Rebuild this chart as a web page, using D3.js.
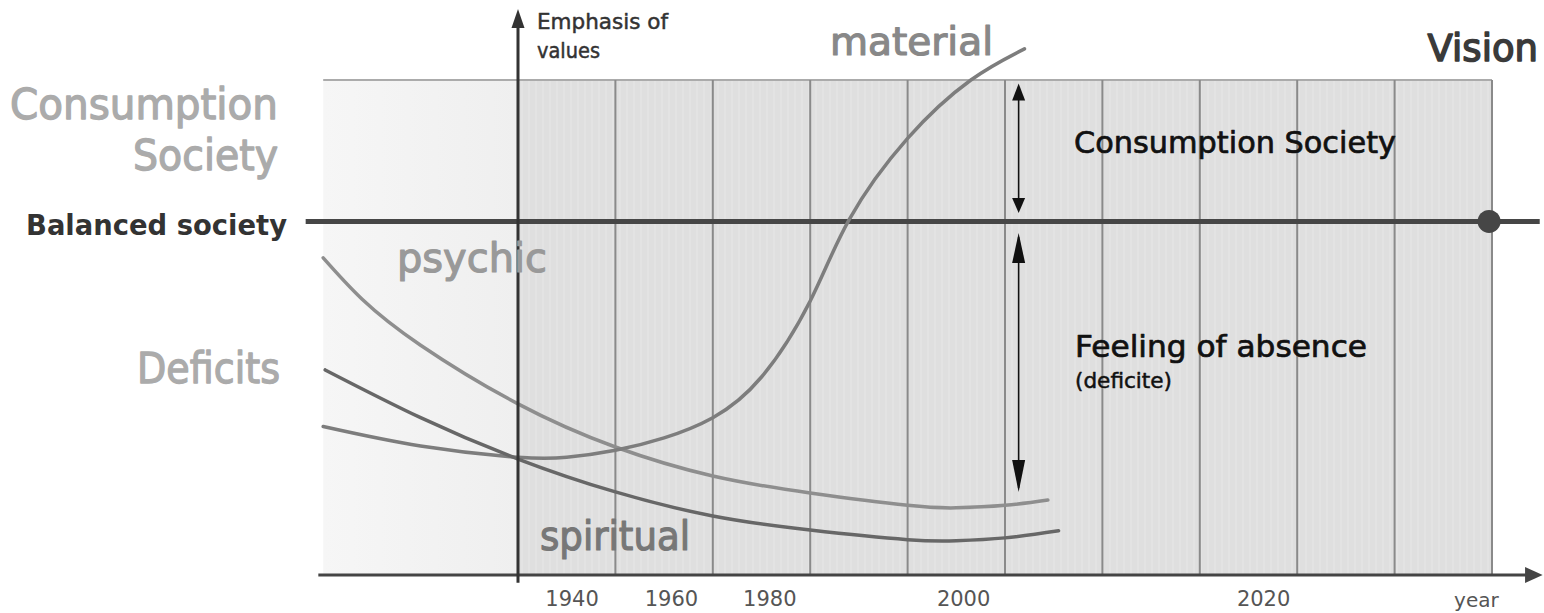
<!DOCTYPE html>
<html>
<head>
<meta charset="utf-8">
<script src="https://cdn.jsdelivr.net/npm/d3@7"></script>
<style>
  body { margin: 0; background: #fff; }
  svg { display: block; }
  text { font-family: "DejaVu Sans", sans-serif; }
</style>
</head>
<body>
<svg id="chart" width="1544" height="613"></svg>
<script>
// x is measured in period columns (0 = value axis), y in emphasis units (10 = balance)
var gridCols = d3.range(1, 11);
var tickCols = [0.55, 1.57, 2.58, 4.57, 7.65];
var tickLabels = ["1940", "1960", "1980", "2000", "2020"];
var balanced = 10;

var material = [[-2.0, 4.2], [-1.0, 3.65], [0, 3.33], [0.5, 3.33], [1.0, 3.53], [1.5, 3.88],
                [2.0, 4.45], [2.5, 5.6], [3.0, 7.75], [3.4, 10.05], [4.0, 12.35], [4.65, 14.0], [5.2, 14.88]];
var psychic = [[-2.0, 8.97], [-1.6, 7.8], [-1.0, 6.5], [0, 4.84], [1.0, 3.62], [2.0, 2.8],
               [3.0, 2.32], [4.0, 1.97], [4.5, 1.9], [5.0, 1.97], [5.44, 2.12]];
var spiritual = [[-1.98, 5.8], [-1.0, 4.45], [0, 3.28], [1.0, 2.35], [2.0, 1.67], [3.0, 1.27],
                 [4.0, 1.0], [4.5, 0.97], [5.0, 1.05], [5.55, 1.25]];

var upperArrow = [13.9, 10.24];   // consumption society span
var lowerArrow = [9.67, 2.35];    // feeling of absence span
var arrowCol = 5.14;

var svg = d3.select("#chart");
var x = d3.scaleLinear().domain([0, 10]).range([518, 1492]);
var y = d3.scaleLinear().domain([0, 14]).range([575, 80]);

// --- background panels
var defs = svg.append("defs");
var stripes = defs.append("pattern").attr("id", "stripes")
    .attr("width", 7).attr("height", 10).attr("patternUnits", "userSpaceOnUse");
stripes.append("rect").attr("width", 7).attr("height", 10).attr("fill", "#dfdfdf");
stripes.append("rect").attr("x", 3).attr("width", 2).attr("height", 10).attr("fill", "#e3e3e3");

var lightGrad = defs.append("linearGradient").attr("id", "lightGrad");
lightGrad.append("stop").attr("offset", "0%").attr("stop-color", "#f6f6f6");
lightGrad.append("stop").attr("offset", "100%").attr("stop-color", "#efefef");

svg.append("rect")
    .attr("x", x(-2)).attr("y", y(14))
    .attr("width", x(0) - x(-2)).attr("height", y(0) - y(14))
    .attr("fill", "url(#lightGrad)");
svg.append("rect")
    .attr("x", x(0)).attr("y", y(14))
    .attr("width", x(10) - x(0)).attr("height", y(0) - y(14))
    .attr("fill", "url(#stripes)");

svg.append("line")
    .attr("x1", x(-2)).attr("x2", x(10))
    .attr("y1", y(14)).attr("y2", y(14))
    .attr("stroke", "#ababab").attr("stroke-width", 2);

svg.selectAll(".grid").data(gridCols).enter().append("line")
    .attr("class", "grid")
    .attr("x1", function(d) { return x(d); }).attr("x2", function(d) { return x(d); })
    .attr("y1", y(14)).attr("y2", y(0))
    .attr("stroke", "#8a8a8a").attr("stroke-width", 2);

// --- balanced society line
svg.append("line")
    .attr("x1", x(-2.18)).attr("x2", x(10.49))
    .attr("y1", y(balanced)).attr("y2", y(balanced))
    .attr("stroke", "#464646").attr("stroke-width", 5);
svg.append("circle")
    .attr("cx", x(9.97)).attr("cy", y(balanced)).attr("r", 11.5)
    .attr("fill", "#464646");

// --- curves
var line = d3.line()
    .x(function(d) { return x(d[0]); })
    .y(function(d) { return y(d[1]); })
    .curve(d3.curveNatural);

var curves = [
  { data: psychic, color: "#8e8e8e" },
  { data: material, color: "#7d7d7d" },
  { data: spiritual, color: "#676767" }
];
svg.selectAll(".curve").data(curves).enter().append("path")
    .attr("class", "curve")
    .attr("d", function(d) { return line(d.data); })
    .attr("fill", "none")
    .attr("stroke", function(d) { return d.color; })
    .attr("stroke-width", 3.5)
    .attr("stroke-linecap", "round");

// --- axes
var xAxis = d3.axisBottom(x)
    .tickValues(tickCols)
    .tickFormat(function(d, i) { return tickLabels[i]; })
    .tickSize(0).tickPadding(16);
var gx = svg.append("g").attr("transform", "translate(0," + y(0) + ")").call(xAxis);
gx.select(".domain").remove();
gx.selectAll("text")
    .attr("font-family", "DejaVu Sans")
    .attr("font-size", 21)
    .attr("fill", "#555");

svg.append("line")
    .attr("x1", x(-2.05)).attr("x2", x(10.36))
    .attr("y1", y(0)).attr("y2", y(0))
    .attr("stroke", "#444").attr("stroke-width", 3);
svg.append("path")
    .attr("d", d3.line()([[x(10.36) - 2, y(0) - 8], [x(10.52), y(0)], [x(10.36) - 2, y(0) + 8]]) + "Z")
    .attr("fill", "#444");
svg.append("text")
    .attr("x", x(9.84)).attr("y", 607)
    .attr("text-anchor", "middle")
    .attr("font-size", 20).attr("fill", "#555")
    .text("year");

svg.append("line")
    .attr("x1", x(0)).attr("x2", x(0))
    .attr("y1", y(-0.22)).attr("y2", 24)
    .attr("stroke", "#333").attr("stroke-width", 3);
svg.append("path")
    .attr("d", d3.line()([[x(0) - 6.5, 28], [x(0), 9], [x(0) + 6.5, 28]]) + "Z")
    .attr("fill", "#333");

// --- double arrows
function doubleArrow(span, headTop, headBottom) {
  var ax = x(arrowCol), y1 = y(span[0]), y2 = y(span[1]);
  svg.append("line")
      .attr("x1", ax).attr("x2", ax)
      .attr("y1", y1 + 4).attr("y2", y2 - 4)
      .attr("stroke", "#111").attr("stroke-width", 1.6);
  svg.append("path")
      .attr("d", d3.line()([[ax - 6.5, y1 + headTop], [ax, y1], [ax + 6.5, y1 + headTop]]) + "Z")
      .attr("fill", "#111");
  svg.append("path")
      .attr("d", d3.line()([[ax - 6.5, y2 - headBottom], [ax, y2], [ax + 6.5, y2 - headBottom]]) + "Z")
      .attr("fill", "#111");
}
doubleArrow(upperArrow, 17, 15);
doubleArrow(lowerArrow, 30, 32);

// --- labels
function label(t, px, py, size, color, opts) {
  opts = opts || {};
  var el = svg.append("text")
      .attr("x", px).attr("y", py)
      .attr("font-size", size)
      .attr("fill", color)
      .attr("text-anchor", opts.anchor || "start")
      .attr("font-weight", opts.weight || "normal")
      .text(t);
  if (opts.len) el.attr("textLength", opts.len).attr("lengthAdjust", "spacingAndGlyphs");
  if (opts.thick) el.attr("stroke", color).attr("stroke-width", opts.thick).attr("stroke-linejoin", "round");
  return el;
}

label("Consumption", 10, 119, 42, "#ababab", { len: 268, thick: 1.3 });
label("Society", 133, 170, 42, "#ababab", { len: 145, thick: 1.3 });
label("Balanced society", 26, 235, 27.5, "#333", { weight: "bold", len: 261 });
label("Deficits", 137, 383, 42, "#ababab", { len: 143, thick: 1.3 });
label("psychic", 397, 272, 40, "#999", { len: 150, thick: 1.2 });
label("spiritual", 540, 550, 40, "#777", { len: 150, thick: 1.2 });
label("material", 830, 55, 39, "#888", { len: 163, thick: 1.2 });
label("Vision", 1538, 61, 37, "#3a3a3a", { anchor: "end", thick: 1.5 });
label("Emphasis of", 537, 29, 21, "#333", { len: 131, thick: 0.5 });
label("values", 537, 58, 21, "#333", { len: 63, thick: 0.5 });
label("Consumption Society", 1074, 153, 30, "#111", { len: 322, thick: 0.7 });
label("Feeling of absence", 1075, 357, 30, "#111", { len: 292, thick: 0.7 });
label("(deficite)", 1075, 388, 21, "#111", { len: 97, thick: 0.5 });
</script>
</body>
</html>
